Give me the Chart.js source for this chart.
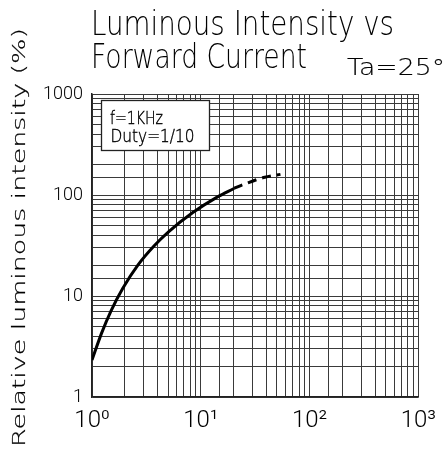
<!DOCTYPE html>
<html><head><meta charset="utf-8">
<script src="https://cdn.jsdelivr.net/npm/chart.js@4.4.1/dist/chart.umd.min.js"></script>
<style>html,body{margin:0;padding:0;background:#fff}canvas{display:block}</style>
</head><body>
<canvas id="c" width="446" height="452"></canvas>
<script>
// Data (forward current in mA, relative intensity in %)
const solidCurrent = [1, 1.22, 1.5, 1.92, 2.65, 3.75, 5.08, 8.45, 14, 20.2];
const solidIntensity = [2.32, 4.24, 7.16, 11.9, 20.3, 31.6, 43.4, 67, 94.7, 116];
const dashCurrent = [20.2, 23.3, 38.8, 54];
const dashIntensity = [116, 124, 150, 160];
const xTickLabels = ['10⁰', '10¹', '10²', '10³'];
const yTickLabels = ['1', '10', '100', '1000'];
const titleLines = ['Luminous Intensity vs', 'Forward Current'];
const tempLabel = 'Ta=25°';
const noteLines = ['f=1KHz', 'Duty=1/10'];
const yAxisTitle = 'Relative luminous intensity (%)';

const pts = (xs, ys) => xs.map((x, i) => ({x, y: ys[i]}));
const decadeIndex = v => {
  const l = Math.log10(v);
  return Math.abs(l - Math.round(l)) < 1e-9 ? Math.round(l) : -1;
};

const THIN = '"DejaVu Sans", sans-serif';
function fitText(ctx, str, x, y, size, width, rot, darken) {
  ctx.save();
  ctx.font = '200 ' + size + 'px ' + THIN;
  const w = ctx.measureText(str).width;
  ctx.translate(x, y);
  if (rot) ctx.rotate(rot);
  ctx.scale(width / w, 1);
  ctx.fillStyle = '#000';
  ctx.textBaseline = 'alphabetic';
  ctx.textAlign = 'left';
  ctx.fillText(str, 0, 0);
  if (darken) {
    ctx.strokeStyle = '#000';
    ctx.lineWidth = darken;
    ctx.strokeText(str, 0, 0);
  }
  ctx.restore();
}

const textPlugin = {
  id: 'texts',
  afterDraw(chart) {
    const ctx = chart.ctx;
    fitText(ctx, titleLines[0], 91, 35, 34, 303);
    fitText(ctx, titleLines[1], 91, 68, 34, 216);
    fitText(ctx, tempLabel, 347, 75, 23, 98, 0, 0.15);
    fitText(ctx, yAxisTitle, 25, 447, 18, 419, -Math.PI / 2, 0.2);
    // note box
    ctx.save();
    ctx.fillStyle = '#fff';
    ctx.fillRect(101.5, 100.5, 108, 50);
    ctx.strokeStyle = '#222';
    ctx.lineWidth = 1.3;
    ctx.strokeRect(101.5, 100.5, 108, 50);
    ctx.restore();
    fitText(ctx, noteLines[0], 110, 123.5, 18, 53, 0, 0.4);
    fitText(ctx, noteLines[1], 110.5, 142, 18, 84, 0, 0.4);
  }
};

new Chart(document.getElementById('c'), {
  type: 'line',
  data: {
    datasets: [
      {data: pts(solidCurrent, solidIntensity), borderColor: '#000', borderWidth: 3,
       pointRadius: 0, cubicInterpolationMode: 'monotone', fill: false},
      {data: pts(dashCurrent, dashIntensity), borderColor: '#000', borderWidth: 3,
       borderDash: [9, 6], pointRadius: 0, cubicInterpolationMode: 'monotone', fill: false}
    ]
  },
  options: {
    responsive: false,
    animation: false,
    devicePixelRatio: 1,
    layout: {padding: {left: 0, top: 94, right: 14, bottom: 0}},
    plugins: {legend: {display: false}, title: {display: false}, tooltip: {enabled: false}},
    scales: {
      x: {
        type: 'logarithmic', min: 1, max: 1000,
        afterFit: s => { s.height = 55; },
        grid: {color: '#3a3a3a', lineWidth: 1, drawTicks: false},
        border: {color: '#222', width: 1.5},
        ticks: {
          autoSkip: false, maxRotation: 0, padding: 10, color: '#000',
          font: {family: 'Roboto, "DejaVu Sans"', weight: '300', size: 24},
          callback: v => { const i = decadeIndex(v); return i >= 0 ? xTickLabels[i] : ''; }
        }
      },
      y: {
        type: 'logarithmic', min: 1, max: 1000,
        afterFit: s => { s.width = 92; },
        grid: {color: '#3a3a3a', lineWidth: 1, drawTicks: false},
        border: {color: '#222', width: 1.5},
        ticks: {
          autoSkip: false, padding: 9, color: '#000',
          font: {family: 'Roboto', weight: '300', size: 18},
          callback: v => { const i = decadeIndex(v); return i >= 0 ? yTickLabels[i] : ''; }
        }
      }
    }
  },
  plugins: [textPlugin]
});
</script>
</body></html>
